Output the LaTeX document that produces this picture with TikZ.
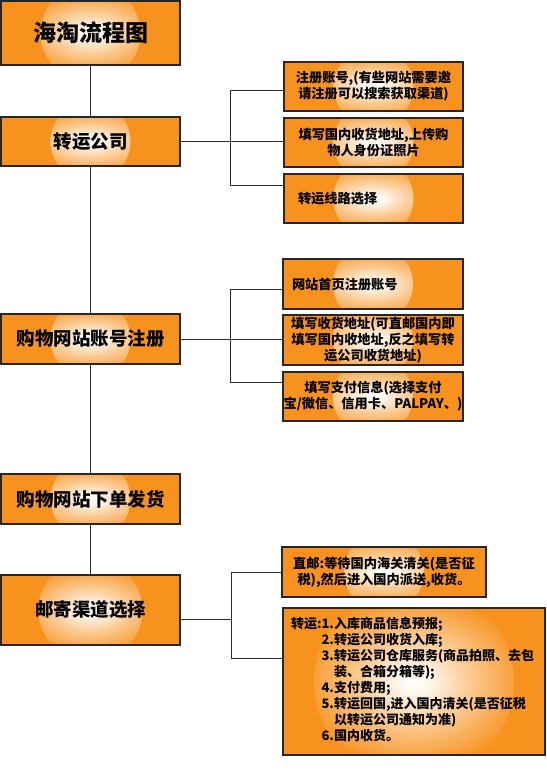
\documentclass[tikz,border=0pt]{standalone}
\usepackage{fontspec}
\setmainfont{Noto Sans CJK SC}
\usetikzlibrary{calc}
\definecolor{orgc}{RGB}{247,146,30}
\definecolor{linec}{RGB}{45,45,45}
\pgfdeclareradialshading{glowsh}{\pgfpoint{0bp}{0bp}}{color(0bp)=(white); color(3bp)=(white!92!orgc); color(10bp)=(white!55!orgc); color(22bp)=(orgc); color(50bp)=(orgc)}
\tikzset{
  box/.style={rectangle, draw=black!85, line width=1.3pt, fill=orgc, inner sep=0pt, align=center, font=\bfseries},
  glow/.style={path picture={\shade[shading=glowsh] (path picture bounding box.center) circle (#1);}},
  bigtxt/.style={font=\bfseries\fontsize{18.5}{22}\selectfont},
  smtxt/.style={font=\bfseries\fontsize{13.2}{16}\selectfont},
  conn/.style={draw=linec, line width=1pt}
}
\begin{document}
\begin{tikzpicture}[x=1pt,y=-1pt]
\useasboundingbox (0,0) rectangle (546,773);
% left column
\node[box, glow=50pt, minimum width=179pt, minimum height=64pt, font=\bfseries\fontsize{23}{26}\selectfont] (t) at (90.5,33) {海淘流程图};
\node[box, glow=40pt, bigtxt, minimum width=179pt, minimum height=49pt] (a) at (90.5,141.5) {转运公司};
\node[box, glow=40pt, bigtxt, minimum width=179pt, minimum height=50pt] (b) at (90.5,339) {购物网站账号注册};
\node[box, glow=40pt, bigtxt, minimum width=179pt, minimum height=50pt] (c) at (90.5,499) {购物网站下单发货};
\node[box, glow=52pt, bigtxt, minimum width=179pt, minimum height=70pt] (d) at (90.5,610) {邮寄渠道选择};
% group a
\node[box, glow=40pt, smtxt, minimum width=179pt, minimum height=49pt] (a1) at (373.5,86.5) {注册账号,(有些网站需要邀\\请注册可以搜索获取渠道)};
\node[box, glow=40pt, smtxt, minimum width=179pt, minimum height=49pt] (a2) at (373.5,142.5) {填写国内收货地址,上传购\\物人身份证照片};
\node[box, glow=40pt, smtxt, minimum width=179pt, minimum height=49pt, text width=151pt, align=left] (a3) at (373.5,198.5) {转运线路选择};
% group b
\node[box, glow=40pt, smtxt, minimum width=180pt, minimum height=50pt, text width=162pt, align=left] (b1) at (373,284) {网站首页注册账号};
\node[box, glow=40pt, smtxt, minimum width=180pt, minimum height=50pt] (b2) at (373,340) {填写收货地址(可直邮国内即\\填写国内收地址,反之填写转\\运公司收货地址)};
\node[box, glow=40pt, smtxt, minimum width=180pt, minimum height=49pt] (b3) at (373,396.5) {填写支付信息(选择支付\\宝/微信、信用卡、PALPAY、)};
% group d
\node[box, glow=40pt, smtxt, minimum width=204pt, minimum height=50pt] (d1) at (384,572) {直邮:等待国内海关清关(是否征\\税),然后进入国内派送,收货。};
\node[box, glow=100pt, minimum width=262pt, minimum height=147pt, text width=246pt, align=left, font=\bfseries\fontsize{13}{16}\selectfont] (d2) at (414,681.5) {%
\begin{tabular}{@{}l@{}l@{}}
转运: & 1.入库商品信息预报;\\
 & 2.转运公司收货入库;\\
 & 3.转运公司仓库服务(商品拍照、去包\\
 & \hphantom{3.}装、合箱分箱等);\\
 & 4.支付费用;\\
 & 5.转运回国,进入国内清关(是否征税\\
 & \hphantom{5.}以转运公司通知为准)\\
 & 6.国内收货。
\end{tabular}};
% trunk
\draw[conn] (t.south) -- (a.north);
\draw[conn] (a.south) -- (b.north);
\draw[conn] (b.south) -- (c.north);
\draw[conn] (c.south) -- (d.north);
% bracket a
\coordinate (ja1) at (230,91);
\coordinate (ja3) at (230,185);
\draw[conn] (a.east) -- (a.east -| a2.west);
\draw[conn] (ja1 -| a1.west) -- (ja1) -- (ja3) -- (ja3 -| a3.west);
% bracket b
\coordinate (jb1) at (230,289);
\coordinate (jb3) at (230,382);
\draw[conn] (b.east) -- (b.east -| b2.west);
\draw[conn] (jb1 -| b1.west) -- (jb1) -- (jb3) -- (jb3 -| b3.west);
% bracket d
\coordinate (jd) at (231,619);
\coordinate (jd1) at (231,572);
\coordinate (jd3) at (231,658);
\draw[conn] (jd -| d.east) -- (jd);
\draw[conn] (jd1 -| d1.west) -- (jd1) -- (jd3) -- (jd3 -| d2.west);
\end{tikzpicture}
\end{document}
